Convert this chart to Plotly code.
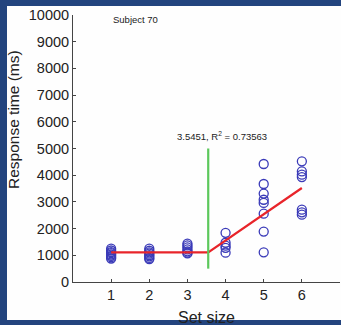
import plotly.graph_objects as go

# Data
set1 = [1250, 1180, 1120, 1080, 1030, 980, 930, 880]
set2 = [1250, 1170, 1110, 1060, 1010, 960, 900, 860]
set3 = [1440, 1370, 1300, 1220, 1150, 1100, 1070]
set4 = [1840, 1470, 1360, 1280, 1100]
set5 = [4420, 3670, 3310, 3080, 2960, 2560, 1890, 1110]
set6 = [4520, 4140, 4020, 3930, 2710, 2610, 2520]
set_sizes = [1, 2, 3, 4, 5, 6]
rt_groups = [set1, set2, set3, set4, set5, set6]
y_ticks = list(range(0, 10001, 1000))
y_ticklabels = [str(v) for v in y_ticks]

breakpoint_x = 3.5451
r_squared = 0.73563
fit_x = [1, breakpoint_x, 6]
fit_y = [1110, 1110, 3520]
green_y = [500, 5000]

xs, ys = [], []
for s, g in zip(set_sizes, rt_groups):
    xs += [s] * len(g)
    ys += g

W, H = 341, 325
L, R, T, B = 73, 1, 15, 43
pw, ph = W - L - R, H - T - B

def px(x):
    return (x - L) / pw

def py(y):
    return (H - B - y) / ph

fig = go.Figure()
fig.add_trace(go.Scatter(x=xs, y=ys, mode="markers",
                         marker=dict(symbol="circle-open", size=9, color="#3a3ab8",
                                     line=dict(width=1.3, color="#3a3ab8")),
                         showlegend=False))
fig.add_trace(go.Scatter(x=fit_x, y=fit_y, mode="lines",
                         line=dict(color="#e8242a", width=2.2), showlegend=False))
fig.add_trace(go.Scatter(x=[breakpoint_x, breakpoint_x], y=green_y, mode="lines",
                         line=dict(color="#5cc85c", width=2.2), showlegend=False))

font_tick = dict(family="Liberation Sans, Arial", size=14.5, color="#222")
fig.update_xaxes(range=[0, 7], tickvals=set_sizes, ticks="inside", ticklen=3,
                 tickcolor="#444", showline=True, linecolor="#444", linewidth=1,
                 showgrid=False, zeroline=False, tickfont=font_tick)
fig.update_yaxes(range=[0, 10000], tickvals=y_ticks, ticktext=y_ticklabels,
                 ticks="inside", ticklen=3, tickcolor="#444", showline=True,
                 linecolor="#444", linewidth=1, showgrid=False, zeroline=False,
                 tickfont=font_tick)

annots = [
    dict(x=1.0, y=9850, xref="x", yref="y", text="Subject 70", showarrow=False,
         xanchor="left", yanchor="middle",
         font=dict(family="Liberation Sans, Arial", size=9.5, color="#222")),
    dict(x=3.9, y=5480, xref="x", yref="y",
         text=f"{breakpoint_x}, R<sup>2</sup> = {r_squared}", showarrow=False,
         xanchor="center", yanchor="middle",
         font=dict(family="Liberation Sans, Arial", size=9.5, color="#222")),
    dict(x=px(206.5), y=py(318), xref="paper", yref="paper", text="Set size",
         showarrow=False, xanchor="center", yanchor="middle",
         font=dict(family="Liberation Sans, Arial", size=16, color="#222")),
    dict(x=px(14), y=py(120), xref="paper", yref="paper", text="Response time (ms)",
         showarrow=False, xanchor="center", yanchor="middle", textangle=-90,
         font=dict(family="Liberation Sans, Arial", size=15.5, color="#222")),
]

border = "#23447e"
shapes = [
    dict(type="rect", xref="paper", yref="paper", x0=px(-2), x1=px(7), y0=py(330), y1=py(-5),
         fillcolor=border, line=dict(width=0), layer="above"),
    dict(type="rect", xref="paper", yref="paper", x0=px(-2), x1=px(345), y0=py(6), y1=py(-5),
         fillcolor=border, line=dict(width=0), layer="above"),
    dict(type="rect", xref="paper", yref="paper", x0=px(-2), x1=px(345), y0=py(330), y1=py(320),
         fillcolor=border, line=dict(width=0), layer="above"),
]

fig.update_layout(width=W, height=H, margin=dict(l=L, r=R, t=T, b=B),
                  paper_bgcolor="#fefefe", plot_bgcolor="#fefefe",
                  annotations=annots, shapes=shapes)
fig.write_html("out.html", config={"displayModeBar": False},
               post_script="document.body.style.margin='0';document.body.style.overflow='hidden';document.documentElement.style.overflow='hidden';")
